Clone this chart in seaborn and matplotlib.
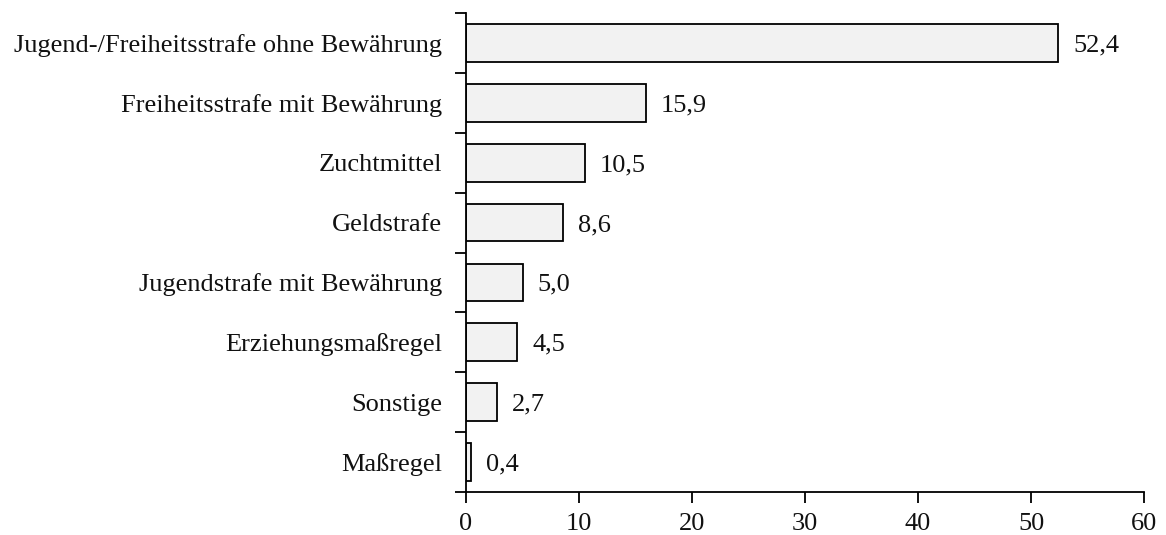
import matplotlib
matplotlib.use("Agg")
import matplotlib.pyplot as plt
import seaborn as sns
import pandas as pd
import numpy as np

categories = ["Jugend-/Freiheitsstrafe ohne Bewährung", "Freiheitsstrafe mit Bewährung",
              "Zuchtmittel", "Geldstrafe", "Jugendstrafe mit Bewährung",
              "Erziehungsmaßregel", "Sonstige", "Maßregel"]
values = [52.4, 15.9, 10.5, 8.6, 5.0, 4.5, 2.7, 0.4]
labels = ["52,4", "15,9", "10,5", "8,6", "5,0", "4,5", "2,7", "0,4"]
xticks = [0, 10, 20, 30, 40, 50, 60]

sns.set_theme(style="white")
plt.rcParams['font.family'] = ['Liberation Serif', 'DejaVu Serif']

FS = 19
df = pd.DataFrame({"cat": categories, "val": values})
fig = plt.figure(figsize=(11.66, 5.35), dpi=100)
ax = fig.add_axes([466/1166, 1-492/535, (1144-466)/1166, (492-13)/535])
sns.barplot(data=df, x="val", y="cat", orient="h", color="#f2f2f2",
            edgecolor="black", linewidth=1.3, width=0.63, saturation=1, ax=ax)
for i, (v, t) in enumerate(zip(values, labels)):
    ax.annotate(t, (v, i), xytext=(11, 0), textcoords="offset points",
                va="center_baseline", ha="left", fontsize=FS, color="#111111")
ax.set_xlim(0, 60)
ax.set_ylim(len(categories)-0.5, -0.5)
ax.set_xticks(xticks)
ax.set_xticklabels([str(x) for x in xticks], fontsize=FS)
ax.set_xlabel("")
ax.set_ylabel("")
ax.tick_params(axis="y", which="major", left=False, length=0, pad=17, labelsize=FS, labelcolor="#111111")
ax.set_yticks(np.arange(-0.5, len(categories), 1.0), minor=True)
ax.tick_params(axis="y", which="minor", left=True, length=8, width=1.3, color="black", direction="out")
ax.tick_params(axis="x", which="major", bottom=True, length=8, width=1.3, color="black", direction="out", pad=7, labelcolor="#111111")
for s in ["top", "right"]:
    ax.spines[s].set_visible(False)
for s in ["left", "bottom"]:
    ax.spines[s].set_color("black")
    ax.spines[s].set_linewidth(1.3)
fig.savefig("out.png", dpi=100)
